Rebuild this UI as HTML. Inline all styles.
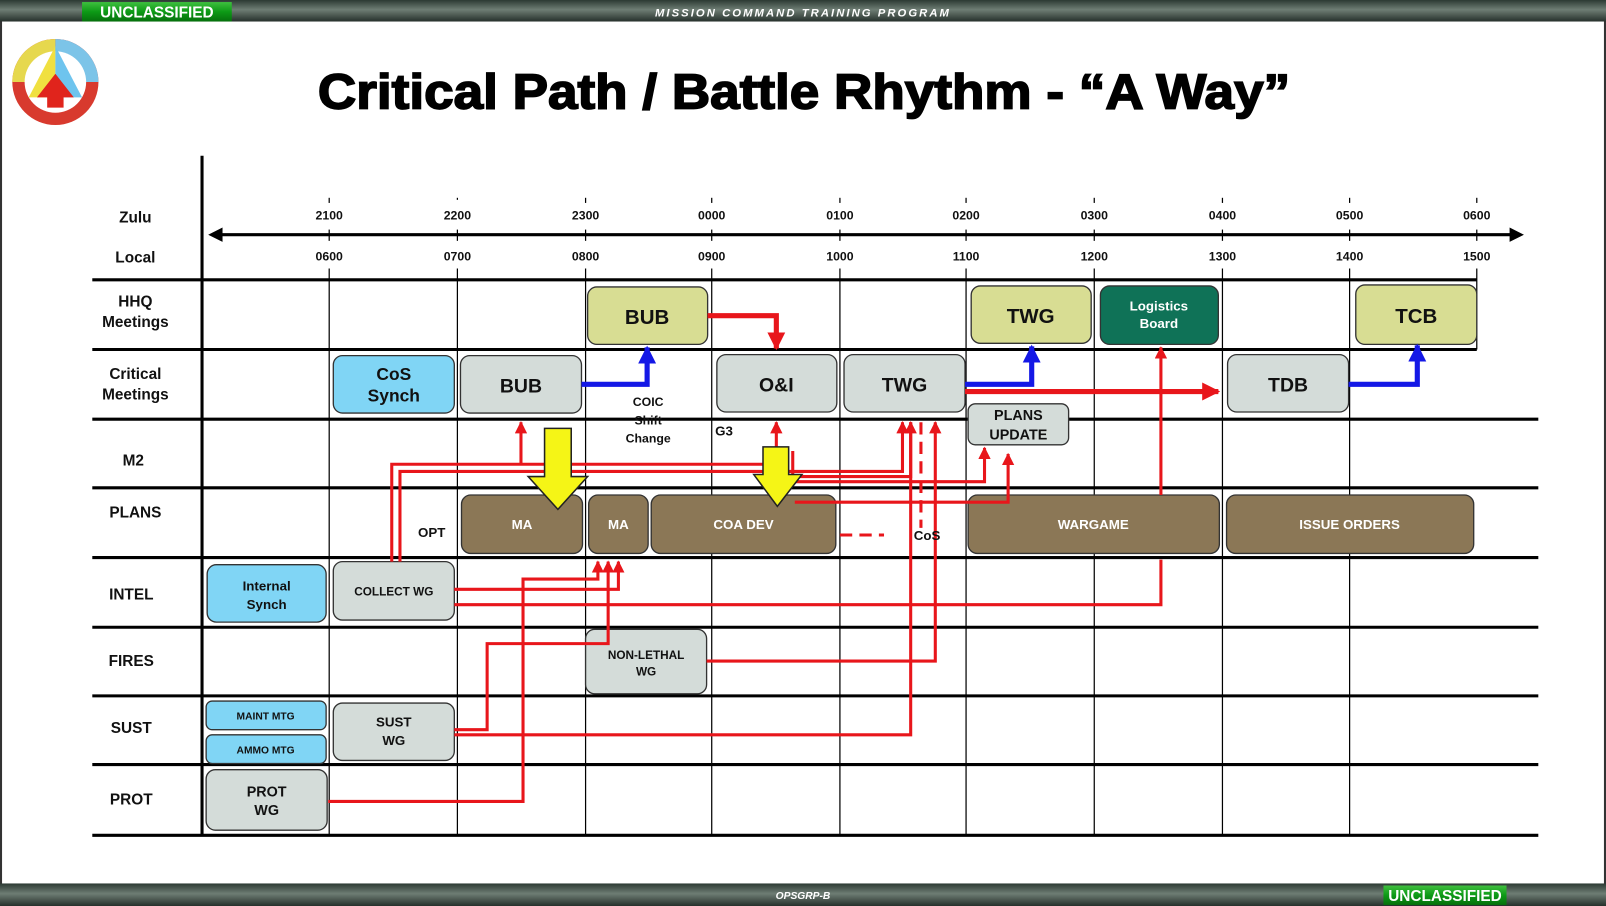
<!DOCTYPE html>
<html><head><meta charset="utf-8"><style>
html,body{margin:0;padding:0;background:#fff;}
svg{display:block;}
text{font-family:"Liberation Sans",Arial,sans-serif;font-weight:bold;}
</style></head><body>
<svg width="1606" height="906" viewBox="0 0 1566 884" preserveAspectRatio="none" xmlns="http://www.w3.org/2000/svg">
<defs>
<linearGradient id="bar" x1="0" y1="0" x2="0" y2="1"><stop offset="0" stop-color="#2c3a33"/><stop offset="0.45" stop-color="#6e7d74"/><stop offset="1" stop-color="#26302b"/></linearGradient>
<linearGradient id="grn" x1="0" y1="0" x2="0" y2="1"><stop offset="0" stop-color="#3fbf3f"/><stop offset="0.5" stop-color="#0d9a16"/><stop offset="1" stop-color="#06700c"/></linearGradient>
<marker id="ar" viewBox="0 0 10 10" refX="9" refY="5" markerWidth="4" markerHeight="4" orient="auto"><path d="M0,0L10,5L0,10z" fill="#e8161b"/></marker>
<marker id="arB" viewBox="0 0 10 10" refX="9" refY="5" markerWidth="3.5" markerHeight="3.5" orient="auto"><path d="M0,0L10,5L0,10z" fill="#e8161b"/></marker>
<marker id="ab" viewBox="0 0 10 10" refX="9" refY="5" markerWidth="3.5" markerHeight="3.5" orient="auto"><path d="M0,0L10,5L0,10z" fill="#1418e6"/></marker>
</defs>
<rect x="0" y="0" width="1566" height="884" fill="#fff"/>
<rect x="1" y="1" width="1564" height="881" fill="none" stroke="#333" stroke-width="2"/>
<rect x="0" y="0" width="1566" height="21" fill="url(#bar)"/>
<rect x="80" y="2" width="146" height="19" fill="url(#grn)"/>
<text x="153" y="17" font-size="15" fill="#fff" text-anchor="middle">UNCLASSIFIED</text>
<text x="783" y="16" font-size="11" fill="#fff" text-anchor="middle" font-style="italic" letter-spacing="2">MISSION COMMAND TRAINING PROGRAM</text>
<rect x="0" y="862" width="1566" height="22" fill="url(#bar)"/>
<rect x="1349" y="864" width="120" height="19" fill="url(#grn)"/>
<text x="1409" y="879" font-size="15" fill="#fff" text-anchor="middle">UNCLASSIFIED</text>
<text x="783" y="877" font-size="10" fill="#fff" text-anchor="middle" font-style="italic">OPSGRP-B</text>
<circle cx="54" cy="80" r="42" fill="#d83a2e"/>
<path d="M54,80 L12,80 A42,42 0 0 1 54,38z" fill="#e6d84e"/>
<path d="M54,38 A42,42 0 0 1 96,80 L54,80z" fill="#7cc4e8"/>
<circle cx="54" cy="80" r="30" fill="#fff"/>
<path d="M54,45 L28,95 L54,95z" fill="#f0e040"/>
<path d="M54,45 L80,95 L54,95z" fill="#6ec4ee"/>
<path d="M54,72 L36,95 L46,95 L46,105 L62,105 L62,95 L72,95z" fill="#e0241c"/>
<text x="310" y="106" font-size="48" fill="#000" textLength="948" lengthAdjust="spacingAndGlyphs" stroke="#000" stroke-width="1.6">Critical Path / Battle Rhythm - “A Way”</text>
<g stroke="#000">
<line x1="197" y1="152" x2="197" y2="815" stroke-width="3"/>
<g stroke-width="1.2">
<line x1="321" y1="262" x2="321" y2="815"/><line x1="446" y1="262" x2="446" y2="815"/><line x1="571" y1="262" x2="571" y2="815"/><line x1="694" y1="262" x2="694" y2="815"/><line x1="819" y1="262" x2="819" y2="815"/><line x1="942" y1="262" x2="942" y2="815"/><line x1="1067" y1="262" x2="1067" y2="815"/><line x1="1192" y1="262" x2="1192" y2="815"/><line x1="1316" y1="262" x2="1316" y2="815"/><line x1="1440" y1="262" x2="1440" y2="341"/>
<line x1="321" y1="224" x2="321" y2="235"/><line x1="446" y1="224" x2="446" y2="235"/><line x1="571" y1="224" x2="571" y2="235"/><line x1="694" y1="224" x2="694" y2="235"/><line x1="819" y1="224" x2="819" y2="235"/><line x1="942" y1="224" x2="942" y2="235"/><line x1="1067" y1="224" x2="1067" y2="235"/><line x1="1192" y1="224" x2="1192" y2="235"/><line x1="1316" y1="224" x2="1316" y2="235"/><line x1="1440" y1="224" x2="1440" y2="235"/>
<line x1="321" y1="193" x2="321" y2="198"/><line x1="446" y1="193" x2="446" y2="195"/><line x1="571" y1="193" x2="571" y2="198"/><line x1="694" y1="193" x2="694" y2="198"/><line x1="819" y1="193" x2="819" y2="198"/><line x1="942" y1="193" x2="942" y2="198"/><line x1="1067" y1="193" x2="1067" y2="198"/><line x1="1192" y1="193" x2="1192" y2="198"/><line x1="1316" y1="193" x2="1316" y2="198"/><line x1="1440" y1="193" x2="1440" y2="198"/>
</g>
<g stroke-width="3">
<line x1="90" y1="273" x2="1440" y2="273"/><line x1="90" y1="341" x2="1440" y2="341"/><line x1="90" y1="409" x2="1500" y2="409"/><line x1="90" y1="476" x2="1500" y2="476"/><line x1="90" y1="544" x2="1500" y2="544"/><line x1="90" y1="612" x2="1500" y2="612"/><line x1="90" y1="679" x2="1500" y2="679"/><line x1="90" y1="746" x2="1500" y2="746"/><line x1="90" y1="815" x2="1500" y2="815"/>
</g>
<line x1="210" y1="229" x2="1475" y2="229" stroke-width="3"/>
</g>
<path d="M203,229 L217,222 L217,236z" fill="#000"/>
<path d="M1486,229 L1472,222 L1472,236z" fill="#000"/>
<g font-size="12" text-anchor="middle" fill="#111">
<text x="321" y="214">2100</text><text x="446" y="214">2200</text><text x="571" y="214">2300</text><text x="694" y="214">0000</text><text x="819" y="214">0100</text><text x="942" y="214">0200</text><text x="1067" y="214">0300</text><text x="1192" y="214">0400</text><text x="1316" y="214">0500</text><text x="1440" y="214">0600</text>
<text x="321" y="254">0600</text><text x="446" y="254">0700</text><text x="571" y="254">0800</text><text x="694" y="254">0900</text><text x="819" y="254">1000</text><text x="942" y="254">1100</text><text x="1067" y="254">1200</text><text x="1192" y="254">1300</text><text x="1316" y="254">1400</text><text x="1440" y="254">1500</text>
</g>
<g font-size="15" text-anchor="middle" fill="#111">
<text x="132" y="217">Zulu</text>
<text x="132" y="256" font-weight="normal">Local</text>
<text x="132" y="299">HHQ</text><text x="132" y="319">Meetings</text>
<text x="132" y="370">Critical</text><text x="132" y="390">Meetings</text>
<text x="130" y="454">M2</text>
<text x="132" y="505">PLANS</text>
<text x="128" y="585">INTEL</text>
<text x="128" y="650">FIRES</text>
<text x="128" y="715">SUST</text>
<text x="128" y="785">PROT</text>
</g>
<g stroke="#333" stroke-width="1.3">
<rect x="573" y="280" width="117" height="56" rx="9" fill="#d8dd93"/>
<rect x="947" y="279" width="117" height="56" rx="9" fill="#d8dd93"/>
<rect x="1073" y="279" width="115" height="57" rx="9" fill="#0f7257"/>
<rect x="1322" y="278" width="118" height="58" rx="9" fill="#d8dd93"/>
<rect x="325" y="347" width="118" height="56" rx="9" fill="#80d5f5"/>
<rect x="449" y="347" width="118" height="56" rx="9" fill="#d4dcd9"/>
<rect x="699" y="346" width="117" height="56" rx="9" fill="#d4dcd9"/>
<rect x="823" y="346" width="118" height="56" rx="9" fill="#d4dcd9"/>
<rect x="1197" y="346" width="118" height="56" rx="9" fill="#d4dcd9"/>
<rect x="944" y="394" width="98" height="40" rx="7" fill="#d4dcd9"/>
<rect x="450" y="483" width="118" height="57" rx="9" fill="#8b7756"/>
<rect x="574" y="483" width="58" height="57" rx="9" fill="#8b7756"/>
<rect x="635" y="483" width="180" height="57" rx="9" fill="#8b7756"/>
<rect x="944" y="483" width="245" height="57" rx="9" fill="#8b7756"/>
<rect x="1196" y="483" width="241" height="57" rx="9" fill="#8b7756"/>
<rect x="202" y="551" width="116" height="56" rx="9" fill="#80d5f5"/>
<rect x="325" y="548" width="118" height="57" rx="9" fill="#d4dcd9"/>
<rect x="571" y="614" width="118" height="63" rx="9" fill="#d4dcd9"/>
<rect x="201" y="684" width="117" height="28" rx="6" fill="#80d5f5"/>
<rect x="201" y="717" width="117" height="28" rx="6" fill="#80d5f5"/>
<rect x="325" y="686" width="118" height="56" rx="9" fill="#d4dcd9"/>
<rect x="201" y="751" width="118" height="59" rx="9" fill="#d4dcd9"/>
</g>
<g fill="none" stroke="#e8161b" stroke-width="3">
<path d="M382,548 V453 H757"/>
<path d="M508,453 V412" marker-end="url(#ar)"/>
<path d="M390,548 V460 H880 V412" marker-end="url(#ar)"/>
<path d="M757,436 V412" marker-end="url(#ar)"/>
<path d="M773,440 V465 H888 V412" marker-end="url(#ar)"/>
<path d="M773,465 V470 H960 V437" marker-end="url(#ar)"/>
<path d="M775,490 H983 V443" marker-end="url(#ar)"/>
<path d="M443,575 H603 V548" marker-end="url(#ar)"/>
<path d="M443,712 H475 V628 H593 V548" marker-end="url(#ar)"/>
<path d="M320,782 H510 V565 H583 V548" marker-end="url(#ar)"/>
<path d="M443,717 H888 V412"/>
<path d="M689,645 H912 V412" marker-end="url(#ar)"/>
<path d="M898,412 V515" stroke-dasharray="12,7"/>
<path d="M819,522 H862" stroke-dasharray="12,7"/>
</g>
<g fill="none" stroke="#e8161b" stroke-width="5">
<path d="M690,308 H757 V340" marker-end="url(#arB)"/>
<path d="M941,382 H1188" marker-end="url(#arB)"/>
<path d="M1132,483 V339" stroke-width="3" marker-end="url(#ar)"/>
<path d="M443,590 H1132 V546" stroke-width="3"/>
</g>
<g fill="none" stroke="#1418e6" stroke-width="5">
<path d="M567,375 H631 V339" marker-end="url(#ab)"/>
<path d="M941,375 H1006 V338" marker-end="url(#ab)"/>
<path d="M1315,375 H1382 V337" marker-end="url(#ab)"/>
</g>
<path d="M531,418 H557 V465 H573 L544,497 L515,465 H531z" fill="#f5f516" stroke="#222" stroke-width="1.5"/>
<path d="M744,436 H769 V463 H782 L758,494 L735,463 H744z" fill="#f5f516" stroke="#222" stroke-width="1.5"/>
<g text-anchor="middle" fill="#111">
<text x="631" y="316" font-size="20">BUB</text>
<text x="1005" y="315" font-size="20">TWG</text>
<text x="1130" y="303" font-size="13" fill="#fff">Logistics</text><text x="1130" y="320" font-size="13" fill="#fff">Board</text>
<text x="1381" y="315" font-size="20">TCB</text>
<text x="384" y="371" font-size="17">CoS</text><text x="384" y="392" font-size="17">Synch</text>
<text x="508" y="383" font-size="19">BUB</text>
<text x="757" y="382" font-size="19">O&amp;I</text>
<text x="882" y="382" font-size="19">TWG</text>
<text x="1256" y="382" font-size="19">TDB</text>
<text x="993" y="410" font-size="14">PLANS</text><text x="993" y="429" font-size="14">UPDATE</text>
<g fill="#fff" font-size="13"><text x="509" y="516">MA</text><text x="603" y="516">MA</text><text x="725" y="516">COA DEV</text><text x="1066" y="516">WARGAME</text><text x="1316" y="516">ISSUE ORDERS</text></g>
<text x="260" y="576" font-size="13">Internal</text><text x="260" y="594" font-size="13">Synch</text>
<text x="384" y="581" font-size="11.5">COLLECT WG</text>
<text x="630" y="643" font-size="11.5">NON-LETHAL</text><text x="630" y="659" font-size="11.5">WG</text>
<text x="259" y="702" font-size="10">MAINT MTG</text><text x="259" y="735" font-size="10">AMMO MTG</text>
<text x="384" y="709" font-size="13">SUST</text><text x="384" y="727" font-size="13">WG</text>
<text x="260" y="777" font-size="14">PROT</text><text x="260" y="795" font-size="14">WG</text>
<text x="632" y="396" font-size="12">COIC</text><text x="632" y="414" font-size="12">Shift</text><text x="632" y="432" font-size="12">Change</text>
<text x="706" y="425" font-size="13">G3</text>
<text x="421" y="524" font-size="13">OPT</text>
<text x="904" y="527" font-size="13">CoS</text>
</g>
</svg>
</body></html>
